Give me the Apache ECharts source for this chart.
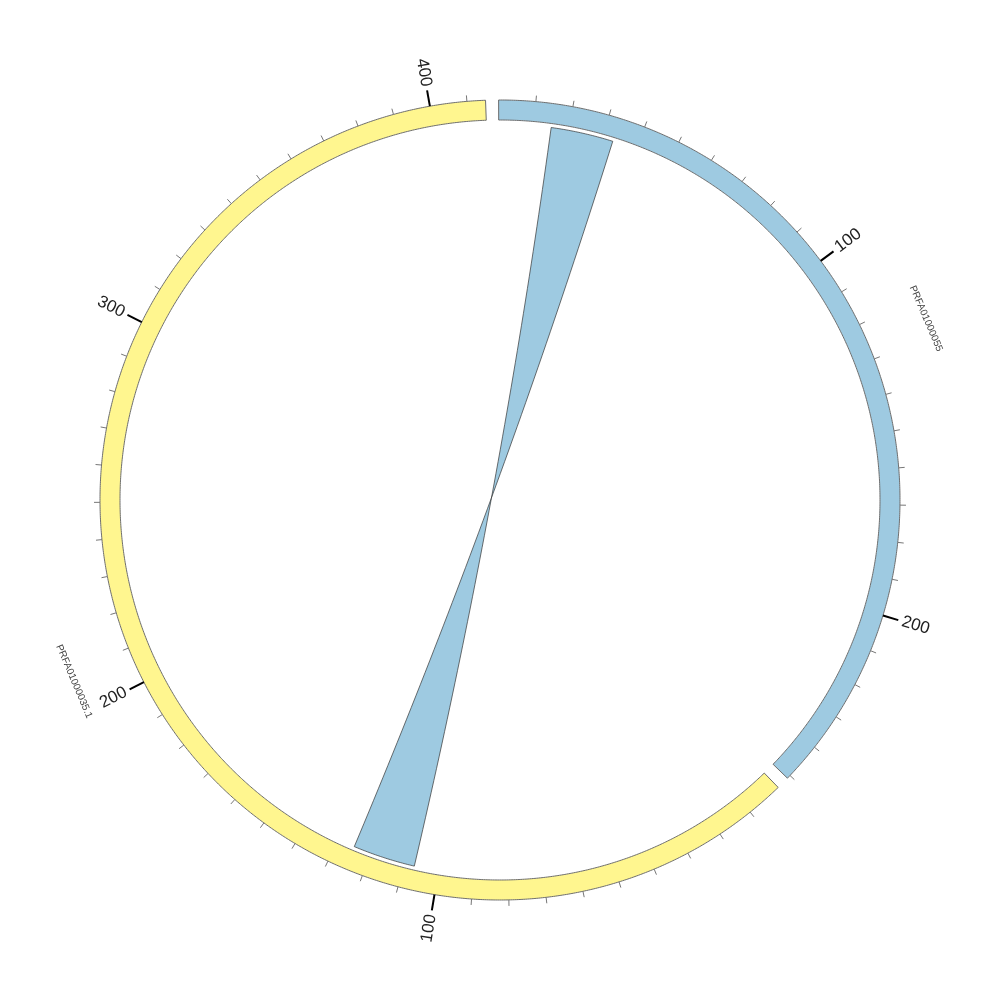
<!DOCTYPE html>
<html>
<head>
<meta charset="utf-8">
<script src="https://cdn.jsdelivr.net/npm/echarts@6/dist/echarts.min.js"></script>
<style>html,body{margin:0;padding:0;background:#fff}#c{width:1000px;height:1000px}</style>
</head>
<body>
<div id="c"></div>
<script>
// ---- data ----
const sectorNames = ['PRFA01000055', 'PRFA01000035.1'];
const sectorLengths = [251, 415];
const sectorColors = ['#9ECAE1', '#FFF68F'];
const gapUnits = 3.5;
const minorTickStep = 10;
const majorTickStep = 100;
const tickLabels0 = ['100', '200'];
const tickLabels1 = ['100', '200', '300', '400'];
const linkFromSector = 0, linkFromRange = [15, 33];
const linkToSector = 1, linkToRange = [107, 125];

// ---- derived ----
const offsets = [];
let acc = 0;
sectorLengths.forEach((L) => { offsets.push(acc); acc += L + gapUnits; });
const TOTAL = acc;
const tickLabels = [tickLabels0, tickLabels1];

const R_OUT = 400, R_IN = 380, R_LINK = 376;

function arcPts(api, r, a0, a1) {
  const pts = [];
  const n = Math.max(2, Math.ceil(Math.abs(a1 - a0) / 0.5));
  for (let i = 0; i <= n; i++) pts.push(api.coord([r, a0 + (a1 - a0) * i / n]));
  return pts;
}

// sector data
const sectorData = sectorNames.map((n, i) => [R_OUT, offsets[i]]);

// tick data: [sectorIndex, position]
const tickData = [];
sectorLengths.forEach((L, s) => {
  for (let v = minorTickStep; v <= L; v += minorTickStep) tickData.push([s, v]);
});

const chart = echarts.init(document.getElementById('c'));
chart.setOption({
  backgroundColor: '#ffffff',
  animation: false,
  polar: { center: ['50%', '50%'], radius: [0, R_OUT] },
  angleAxis: { type: 'value', min: 0, max: TOTAL, startAngle: 90.2, clockwise: true, show: false,
               axisLine: {show: false}, axisTick: {show: false}, axisLabel: {show: false}, splitLine: {show: false} },
  radiusAxis: { type: 'value', min: 0, max: R_OUT, show: false,
                axisLine: {show: false}, axisTick: {show: false}, axisLabel: {show: false}, splitLine: {show: false} },
  series: [
    {
      type: 'custom', coordinateSystem: 'polar', silent: true,
      data: sectorData,
      renderItem: function (params, api) {
        const i = params.dataIndex;
        const a0 = offsets[i], a1 = offsets[i] + sectorLengths[i];
        const outer = arcPts(api, R_OUT, a0, a1);
        const inner = arcPts(api, R_IN, a1, a0);
        const c = api.coord([0, 0]);
        const mid = (a0 + a1) / 2;
        const lp = api.coord([463, mid]);
        const theta = Math.atan2(lp[1] - c[1], lp[0] - c[0]);
        let dir = theta + Math.PI / 2;
        while (dir > Math.PI / 2) dir -= Math.PI;
        while (dir <= -Math.PI / 2) dir += Math.PI;
        return {
          type: 'group',
          children: [
            { type: 'polygon', shape: { points: outer.concat(inner) },
              style: { fill: sectorColors[i], stroke: '#6e6e6e', lineWidth: 1 } },
            { type: 'text', x: lp[0], y: lp[1], rotation: -dir,
              style: { text: sectorNames[i], fill: '#444', font: '10px "Liberation Sans", Arial, sans-serif',
                       align: 'center', verticalAlign: 'middle', textAlign: 'center', textVerticalAlign: 'middle' } }
          ]
        };
      }
    },
    {
      type: 'custom', coordinateSystem: 'polar', silent: true,
      data: tickData,
      renderItem: function (params, api) {
        const d = tickData[params.dataIndex];
        const s = d[0], v = d[1];
        const a = offsets[s] + v;
        const major = v % majorTickStep === 0;
        const p0 = api.coord([R_OUT, a]);
        const p1 = api.coord([R_OUT + (major ? 16 : 6), a]);
        const children = [
          { type: 'line', shape: { x1: p0[0], y1: p0[1], x2: p1[0], y2: p1[1] },
            style: { stroke: major ? '#000' : '#777', lineWidth: major ? 2 : 1 } }
        ];
        if (major) {
          const label = tickLabels[s][v / majorTickStep - 1];
          const c = api.coord([0, 0]);
          const lp = api.coord([R_OUT + 20, a]);
          const theta = Math.atan2(lp[1] - c[1], lp[0] - c[0]);
          const right = Math.cos(theta) >= 0;
          children.push({ type: 'text', x: lp[0], y: lp[1], rotation: right ? -theta : Math.PI - theta,
            style: { text: label, fill: '#222', font: '17px "Liberation Sans", Arial, sans-serif',
                     align: right ? 'left' : 'right', verticalAlign: 'middle',
                     textAlign: right ? 'left' : 'right', textVerticalAlign: 'middle' } });
        }
        return { type: 'group', children: children };
      }
    },
    {
      type: 'custom', coordinateSystem: 'polar', silent: true,
      data: [[R_LINK, offsets[linkFromSector] + linkFromRange[0]]],
      renderItem: function (params, api) {
        const c = api.coord([0, 0]);
        const s0 = offsets[linkFromSector] + linkFromRange[0];
        const s1 = offsets[linkFromSector] + linkFromRange[1];
        const t0 = offsets[linkToSector] + linkToRange[0];
        const t1 = offsets[linkToSector] + linkToRange[1];
        function bez(p, q) {
          const pts = [];
          for (let k = 1; k < 60; k++) {
            const t = k / 60, u = 1 - t;
            pts.push([u * u * p[0] + 2 * u * t * c[0] + t * t * q[0], u * u * p[1] + 2 * u * t * c[1] + t * t * q[1]]);
          }
          return pts;
        }
        const arcS = arcPts(api, R_LINK, s0, s1);
        const arcT = arcPts(api, R_LINK, t1, t0);
        const pts = arcS.concat(bez(arcS[arcS.length - 1], arcT[0]), arcT, bez(arcT[arcT.length - 1], arcS[0]));
        return { type: 'polygon', shape: { points: pts },
                 style: { fill: sectorColors[linkFromSector], stroke: '#333', lineWidth: 0.7 } };
      }
    }
  ]
});
</script>
</body>
</html>
